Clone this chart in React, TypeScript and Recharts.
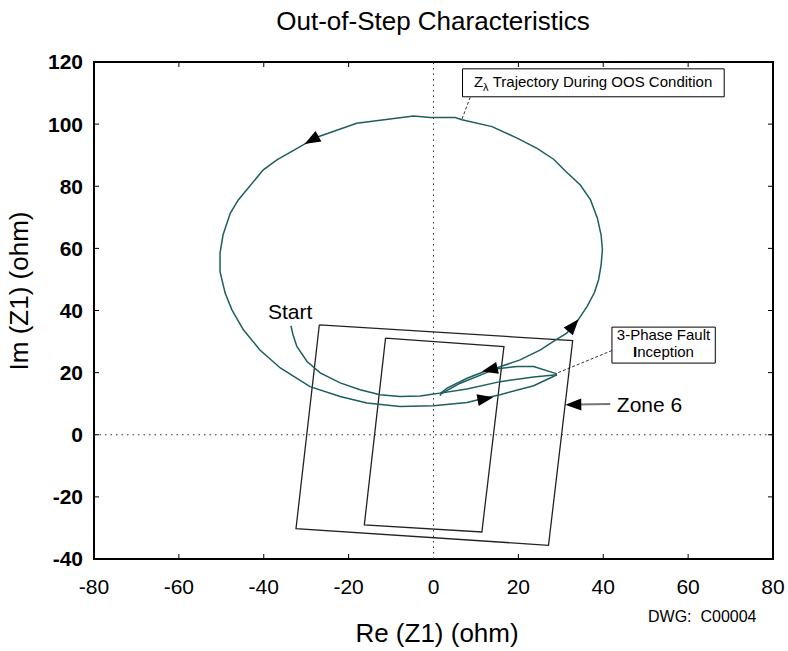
import React from "react";
import {
  ScatterChart,
  Scatter,
  XAxis,
  YAxis,
  ReferenceLine,
  ReferenceArea
} from "recharts";

const W = 788;
const H = 651;
const MARGIN = { top: 62, right: 15, bottom: 0, left: 0 };
const Y_AXIS_W = 94;
const X_AXIS_H = 92;
const KX = (W - MARGIN.right - Y_AXIS_W) / 160;
const KY = (H - MARGIN.top - X_AXIS_H) / 160;

const FONT = "'Liberation Sans', Arial, sans-serif";
const TRAJ = "#1d5e5e";

const xTicks = [-80, -60, -40, -20, 0, 20, 40, 60, 80];
const yTicks = [-40, -20, 0, 20, 40, 60, 80, 100, 120];
const xMinor = [-60, -40, -20, 20, 40, 60];
const yMinor = [-20, 0, 20, 40, 60, 80, 100];

// start -> inner arc -> fault inception
const startPath = [
  { x: -33.6, y: 35.1 }, { x: -33.1, y: 32.2 }, { x: -32.2, y: 28.4 },
  { x: -29.8, y: 23.6 }, { x: -26.7, y: 19.9 }, { x: -22.0, y: 16.7 },
  { x: -17.3, y: 14.5 }, { x: -12.6, y: 12.9 }, { x: -7.9, y: 12.3 },
  { x: -3.1, y: 12.5 }, { x: 0, y: 13.1 }, { x: 1.6, y: 13.4 },
  { x: 7.9, y: 14.7 }, { x: 15.7, y: 17.1 }, { x: 23.6, y: 18.6 },
  { x: 29.1, y: 19.3 }
];

// during fault: back to the left
const faultPath = [
  { x: 29.1, y: 19.6 }, { x: 23.6, y: 22.0 }, { x: 19.7, y: 22.0 },
  { x: 15.7, y: 21.3 }, { x: 12.6, y: 20.7 }, { x: 7.9, y: 18.2 },
  { x: 3.2, y: 15.0 }, { x: 1.7, y: 13.4 }, { x: 1.6, y: 12.5 }
];

// out-of-step swing
const swingPath = [
  { x: 1.8, y: 13.2 }, { x: 6.3, y: 16.6 }, { x: 11.8, y: 19.6 },
  { x: 15.7, y: 21.9 }, { x: 20.4, y: 24.1 }, { x: 25.2, y: 27.3 },
  { x: 28.9, y: 30.6 }, { x: 31.4, y: 32.7 }, { x: 34.1, y: 37.0 },
  { x: 36.2, y: 41.3 }, { x: 37.9, y: 45.7 }, { x: 38.9, y: 49.9 },
  { x: 39.5, y: 54.7 }, { x: 39.8, y: 59.5 }, { x: 39.5, y: 64.3 },
  { x: 38.6, y: 69.8 }, { x: 37.0, y: 75.6 }, { x: 34.6, y: 80.4 },
  { x: 31.3, y: 84.6 }, { x: 28.3, y: 88.7 }, { x: 24.4, y: 92.2 },
  { x: 19.7, y: 95.5 }, { x: 13.8, y: 99.2 }, { x: 6.7, y: 101.4 },
  { x: 5.1, y: 102.1 }, { x: -0.8, y: 102.1 }, { x: -4.7, y: 102.6 },
  { x: -18.1, y: 100.3 }, { x: -27.5, y: 95.8 }, { x: -36.9, y: 88.5 },
  { x: -40.1, y: 85.3 }, { x: -46.0, y: 75.6 }, { x: -47.9, y: 71.3 },
  { x: -49.6, y: 64.3 }, { x: -50.3, y: 58.5 }, { x: -50.3, y: 52.5 },
  { x: -49.1, y: 45.6 }, { x: -47.5, y: 40.2 }, { x: -44.8, y: 33.8 },
  { x: -40.9, y: 27.3 }, { x: -36.1, y: 21.5 }, { x: -29.1, y: 15.5 },
  { x: -22.0, y: 12.3 }, { x: -15.7, y: 10.2 }, { x: -7.9, y: 9.1 },
  { x: 0, y: 9.3 }, { x: 7.9, y: 10.4 }, { x: 12.2, y: 11.8 },
  { x: 15.7, y: 12.9 }, { x: 23.6, y: 15.8 }, { x: 29.1, y: 19.3 }
];

const zone6 = [
  { x: -26.9, y: 35.4 }, { x: 32.8, y: 30.3 }, { x: 27.1, y: -35.6 },
  { x: -32.4, y: -30.2 }, { x: -26.9, y: 35.4 }
];
const zoneInner = [
  { x: -11.3, y: 31.1 }, { x: 16.6, y: 28.4 }, { x: 11.4, y: -31.3 },
  { x: -16.3, y: -29.0 }, { x: -11.3, y: 31.1 }
];

// arrow tips (x,y) and the point they come from (fx,fy)
const arrowTips = [
  { x: -30.4, y: 93.6, fx: -27.5, fy: 95.8 },
  { x: 11.4, y: 20.4, fx: 14.9, fy: 21.5 },
  { x: 14.1, y: 12.1, fx: 10.5, fy: 11.2 },
  { x: 34.2, y: 37.2, fx: 31.4, fy: 32.7 },
  { x: 31.05, y: 9.65, fx: 41.65, fy: 9.9 }
];

const labels = [
  { x: -33.8, y: 37.2, text: "Start", anchor: "middle", size: 21 },
  { x: 43.2, y: 7.2, text: "Zone 6", anchor: "start", size: 21 }
];

function Nothing() {
  return <g />;
}

function ArrowHead(p: any) {
  const { cx, cy, payload } = p;
  const sx = (payload.x - payload.fx) * KX;
  const sy = -(payload.y - payload.fy) * KY;
  const len = Math.hypot(sx, sy) || 1;
  const ux = sx / len;
  const uy = sy / len;
  const L = 16;
  const w = 6;
  const bx = cx - ux * L;
  const by = cy - uy * L;
  const pts = `${cx},${cy} ${bx - uy * w},${by + ux * w} ${bx + uy * w},${by - ux * w}`;
  return <polygon points={pts} fill="#000" />;
}

function TextMark(p: any) {
  const { cx, cy, payload } = p;
  return (
    <text x={cx} y={cy} textAnchor={payload.anchor} fontSize={payload.size} fontFamily={FONT} fill="#000">
      {payload.text}
    </text>
  );
}

function OosBoxText(p: any) {
  const { cx, cy } = p;
  return (
    <text x={cx} y={cy} textAnchor="middle" fontSize={15} fontFamily={FONT} fill="#000">
      Z
      <tspan fontSize={11} dy={4}>λ</tspan>
      <tspan dy={-4}> Trajectory During OOS Condition</tspan>
    </text>
  );
}

function FaultBoxText(p: any) {
  const { cx, cy } = p;
  return (
    <text x={cx} y={cy} textAnchor="middle" fontSize={15} fontFamily={FONT} fill="#000">
      <tspan x={cx}>3-Phase Fault</tspan>
      <tspan x={cx} dy={17.5}>
        <tspan fontWeight="bold">I</tspan>nception
      </tspan>
    </text>
  );
}

const oosText = [{ x: 37.6, y: 112.0 }];
const faultText = [{ x: 54.2, y: 30.6 }];

export default function App() {
  const tickLen = 5;
  return (
    <div style={{ position: "absolute", left: 0, top: 0, width: W, height: H, background: "#fff" }}>
      <ScatterChart width={W} height={H} margin={MARGIN}>
        <XAxis
          type="number"
          dataKey="x"
          domain={[-80, 80]}
          ticks={xTicks}
          allowDataOverflow
          axisLine={false}
          tickLine={false}
          height={X_AXIS_H}
          tickMargin={14}
          tick={{ fontSize: 21, fill: "#000", fontFamily: FONT }}
        />
        <YAxis
          type="number"
          dataKey="y"
          domain={[-40, 120]}
          ticks={yTicks}
          allowDataOverflow
          axisLine={false}
          tickLine={false}
          width={Y_AXIS_W}
          tickMargin={5}
          tick={{ fontSize: 21, fill: "#000", fontFamily: FONT, fontWeight: "bold" }}
        />
        <ReferenceLine x={0} stroke="#333" strokeDasharray="1.5 4" />
        <ReferenceLine y={0} stroke="#333" strokeDasharray="1.5 4" />
        {xMinor.map((v) => (
          <ReferenceLine key={"t" + v} segment={[{ x: v, y: 120 }, { x: v, y: 120 - tickLen / KY }]} stroke="#000" />
        ))}
        {xMinor.map((v) => (
          <ReferenceLine key={"b" + v} segment={[{ x: v, y: -40 }, { x: v, y: -40 + tickLen / KY }]} stroke="#000" />
        ))}
        {yMinor.map((v) => (
          <ReferenceLine key={"l" + v} segment={[{ x: -80, y: v }, { x: -80 + tickLen / KX, y: v }]} stroke="#000" />
        ))}
        {yMinor.map((v) => (
          <ReferenceLine key={"r" + v} segment={[{ x: 80, y: v }, { x: 80 - tickLen / KX, y: v }]} stroke="#000" />
        ))}
        <ReferenceArea x1={-80} x2={80} y1={-40} y2={120} fill="none" stroke="#000" strokeWidth={2} ifOverflow="visible" />
        <ReferenceArea x1={6.84} x2={68.5} y1={108.8} y2={117.8} fill="#fff" fillOpacity={1} stroke="#000" strokeWidth={1} />
        <ReferenceArea x1={42.05} x2={66.4} y1={23.07} y2={34.65} fill="#fff" fillOpacity={1} stroke="#000" strokeWidth={1} />
        <ReferenceLine segment={[{ x: 8.65, y: 108.65 }, { x: 6.7, y: 101.6 }]} stroke="#333" strokeDasharray="3 2" />
        <ReferenceLine segment={[{ x: 42.05, y: 27.1 }, { x: 29.1, y: 19.85 }]} stroke="#333" strokeDasharray="3 2" />
        <ReferenceLine segment={[{ x: 41.65, y: 9.9 }, { x: 33.5, y: 9.7 }]} stroke="#777" strokeWidth={2} />

        <Scatter data={zone6} line={{ stroke: "#222", strokeWidth: 1.3 }} shape={<Nothing />} isAnimationActive={false} />
        <Scatter data={zoneInner} line={{ stroke: "#222", strokeWidth: 1.3 }} shape={<Nothing />} isAnimationActive={false} />
        <Scatter data={startPath} line={{ stroke: TRAJ, strokeWidth: 1.5 }} shape={<Nothing />} isAnimationActive={false} />
        <Scatter data={faultPath} line={{ stroke: TRAJ, strokeWidth: 1.5 }} shape={<Nothing />} isAnimationActive={false} />
        <Scatter data={swingPath} line={{ stroke: TRAJ, strokeWidth: 1.5 }} shape={<Nothing />} isAnimationActive={false} />
        <Scatter data={arrowTips} shape={<ArrowHead />} isAnimationActive={false} />
        <Scatter data={labels} shape={<TextMark />} isAnimationActive={false} />
        <Scatter data={oosText} shape={<OosBoxText />} isAnimationActive={false} />
        <Scatter data={faultText} shape={<FaultBoxText />} isAnimationActive={false} />
      </ScatterChart>
      <svg width={W} height={H} style={{ position: "absolute", left: 0, top: 0, pointerEvents: "none" }}>
        <text x={433} y={30} textAnchor="middle" fontSize={26} fontFamily={FONT} fill="#000">
          Out-of-Step Characteristics
        </text>
        <text x={437} y={642} textAnchor="middle" fontSize={26} fontFamily={FONT} fill="#000">
          Re (Z1) (ohm)
        </text>
        <text x={28} y={291} textAnchor="middle" fontSize={26} fontFamily={FONT} fill="#000" transform="rotate(-90 28 291)">
          Im (Z1) (ohm)
        </text>
        <text x={648} y={622} fontSize={16} fontFamily={FONT} fill="#000">
          {"DWG:\u00a0\u00a0C00004"}
        </text>
      </svg>
    </div>
  );
}
